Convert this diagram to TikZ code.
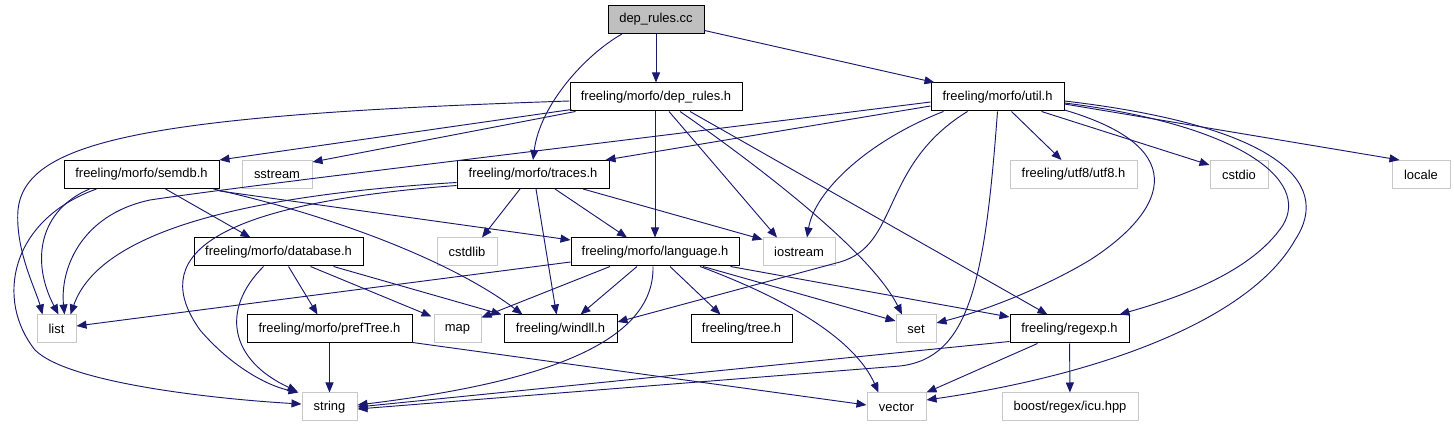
\documentclass[tikz,border=0pt]{standalone}
\usepackage{fontspec}
\setmainfont{Liberation Sans}
\usetikzlibrary{arrows.meta}
\definecolor{dxEdge}{HTML}{191970}
\definecolor{dxRoot}{HTML}{BFBFBF}
\definecolor{dxSys}{HTML}{C8C8C8}

\begin{document}
\begin{tikzpicture}[x=0.75pt, y=-0.75pt, font=\fontsize{9.7}{11}\selectfont,
  hdr/.style={draw=black, line width=0.75pt, fill=white, minimum height=21pt, inner sep=0pt},
  sys/.style={draw=dxSys, line width=0.75pt, fill=white, minimum height=21pt, inner sep=0pt},
  root/.style={hdr, fill=dxRoot},
  dep/.style={dxEdge, line width=0.7pt, -{Triangle[length=7.5pt, width=6pt]}}]
  \useasboundingbox[fill=white] (0,0) rectangle (1454,427);

  % rows of headers
  \node[root, minimum width=72pt] (cc) at (656,19.5) {dep\_rules.cc};
  \node[hdr, minimum width=129pt] (deprules) at (656,97) {freeling/morfo/dep\_rules.h};
  \node[hdr, minimum width=99.75pt] (util) at (997.5,97) {freeling/morfo/util.h};
  \node[hdr, minimum width=116.25pt] (semdb) at (141.5,174.5) {freeling/morfo/semdb.h};
  \node[sys, minimum width=52.5pt] (sstream) at (277,174.5) {sstream};
  \node[hdr, minimum width=114pt] (traces) at (533,174.5) {freeling/morfo/traces.h};
  \node[sys, minimum width=95.25pt] (utf8) at (1073.5,174.5) {freeling/utf8/utf8.h};
  \node[sys, minimum width=43.5pt] (cstdio) at (1239,174.5) {cstdio};
  \node[sys, minimum width=43.5pt] (locale) at (1421,174.5) {locale};
  \node[hdr, minimum width=126.75pt] (database) at (278.5,252) {freeling/morfo/database.h};
  \node[sys, minimum width=45pt] (cstdlib) at (467,252) {cstdlib};
  \node[hdr, minimum width=126pt] (language) at (655,252) {freeling/morfo/language.h};
  \node[sys, minimum width=54pt] (iostream) at (799,252) {iostream};
  \node[sys, minimum width=29.25pt] (list) at (56.5,329) {list};
  \node[hdr, minimum width=123.75pt] (preftree) at (329.5,329) {freeling/morfo/prefTree.h};
  \node[sys, minimum width=35.25pt] (map) at (457.5,329) {map};
  \node[hdr, minimum width=84.75pt] (windll) at (560.5,329) {freeling/windll.h};
  \node[hdr, minimum width=75.75pt] (tree) at (741.5,329) {freeling/tree.h};
  \node[sys, minimum width=30pt] (set) at (916,329) {set};
  \node[hdr, minimum width=89.25pt] (regexp) at (1069.5,329) {freeling/regexp.h};
  \node[sys, minimum width=41.25pt] (string) at (329.5,407) {string};
  \node[sys, minimum width=44.25pt] (vector) at (896.5,407) {vector};
  \node[sys, minimum width=102pt] (icu) at (1070,407) {boost/regex/icu.hpp};

  % dep_rules.cc
  \draw[dep] (cc) -- (deprules);
  \draw[dep] ([shift={(-34,0)}]cc.south) .. controls (585,55) and (540,105) .. (traces.north);
  \draw[dep] ([shift={(0,11)}]cc.east) -- ([shift={(4,0)}]util.north west);

  % dep_rules.h
  \draw[dep] ([shift={(2,-2)}]deprules.south west) -- (semdb.north east);
  \draw[dep] ([shift={(6,0)}]deprules.south west) -- ([shift={(0,2)}]sstream.north east);
  \draw[dep] ([shift={(0,4)}]deprules.west) .. controls (150,115) and (25,140) .. (18,210) .. controls (15,250) and (36,290) .. ([shift={(-14,0)}]list.north);
  \draw[dep] ([shift={(-1,0)}]deprules.south) -- (language.north);
  \draw[dep] ([shift={(13,0)}]deprules.south) -- ([shift={(-22,0)}]iostream.north);
  \draw[dep] ([shift={(24,0)}]deprules.south) .. controls (750,160) and (870,250) .. ([shift={(-14,0)}]set.north);
  \draw[dep] ([shift={(34,0)}]deprules.south) -- ([shift={(-22,0)}]regexp.north);

  % util.h
  \draw[dep] ([shift={(0,9)}]util.west) -- ([shift={(-4,0)}]traces.north east);
  \draw[dep] ([shift={(0,5)}]util.west) .. controls (550,150) and (250,185) .. (150,200) .. controls (80,215) and (60,270) .. ([shift={(8,0)}]list.north);
  \draw[dep] ([shift={(-54,0)}]util.south) .. controls (870,140) and (815,190) .. ([shift={(8,0)}]iostream.north);
  \draw[dep] ([shift={(-30,0)}]util.south) .. controls (880,165) and (900,245) .. (840,262) -- ([shift={(0,-7)}]windll.east);
  \draw[dep] (util.south) .. controls (985,280) and (970,358) .. (900,366) -- ([shift={(0,2)}]string.east);
  \draw[dep] ([shift={(14,0)}]util.south) -- ([shift={(-12,0)}]utf8.north);
  \draw[dep] ([shift={(44,0)}]util.south) -- ([shift={(0,5)}]cstdio.north west);
  \draw[dep] ([shift={(0,7)}]util.east) -- ([shift={(8,0)}]locale.north west);
  \draw[dep] ([shift={(0,13)}]util.east) .. controls (1200,150) and (1160,215) .. (1090,260) .. controls (1040,290) and (980,312) .. ([shift={(0,-6)}]set.east);
  \draw[dep] ([shift={(0,6)}]util.east) .. controls (1240,125) and (1310,180) .. (1283,225) .. controls (1250,275) and (1170,300) .. ([shift={(-10,0)}]regexp.north east);
  \draw[dep] ([shift={(0,4)}]util.east) .. controls (1270,125) and (1335,180) .. (1295,240) .. controls (1250,320) and (1100,375) .. ([shift={(0,-7)}]vector.east);

  % semdb.h
  \draw[dep] ([shift={(24,0)}]semdb.south) -- ([shift={(-28,0)}]database.north);
  \draw[dep] ([shift={(-6,0)}]semdb.south east) .. controls (330,215) and (450,260) .. ([shift={(19,0)}]windll.north west);
  \draw[dep] ([shift={(0,2)}]semdb.south east) -- ([shift={(0,-12)}]language.west);
  \draw[dep] ([shift={(-52,0)}]semdb.south) .. controls (40,210) and (30,260) .. ([shift={(2,0)}]list.north);
  \draw[dep] ([shift={(-45,0)}]semdb.south) .. controls (10,220) and (-5,300) .. (35,350) .. controls (70,385) and (230,400) .. ([shift={(0,-3)}]string.west);

  % traces.h
  \draw[dep] ([shift={(-13,0)}]traces.south) -- ([shift={(15,0)}]cstdlib.north);
  \draw[dep] ([shift={(3,0)}]traces.south) -- ([shift={(-4,0)}]windll.north);
  \draw[dep] ([shift={(22,0)}]traces.south) -- ([shift={(-28,0)}]language.north);
  \draw[dep] ([shift={(50,0)}]traces.south) -- ([shift={(0,2)}]iostream.north west);
  \draw[dep] ([shift={(0,8)}]traces.west) .. controls (250,195) and (100,230) .. ([shift={(14,0)}]list.north);
  \draw[dep] ([shift={(0,11)}]traces.west) .. controls (200,205) and (150,260) .. (200,330) .. controls (230,365) and (265,385) .. ([shift={(-3,0)}]string.north west);

  % database.h
  \draw[dep] ([shift={(-15,0)}]database.south) .. controls (220,310) and (230,360) .. ([shift={(-4,-1)}]string.north west);
  \draw[dep] ([shift={(10,0)}]database.south) -- ([shift={(-12,0)}]preftree.north);
  \draw[dep] ([shift={(32,0)}]database.south) -- ([shift={(-2,2)}]map.north west);
  \draw[dep] ([shift={(-30,0)}]database.south east) -- ([shift={(-2,0)}]windll.north west);

  % language.h
  \draw[dep] ([shift={(0,10)}]language.west) -- ([shift={(0,-3)}]list.east);
  \draw[dep] ([shift={(-45,0)}]language.south) -- ([shift={(0,3)}]map.north east);
  \draw[dep] ([shift={(-18,0)}]language.south) -- ([shift={(20,0)}]windll.north);
  \draw[dep] ([shift={(-2,0)}]language.south) .. controls (655,350) and (520,385) .. ([shift={(0,-2)}]string.east);
  \draw[dep] ([shift={(15,0)}]language.south) -- ([shift={(-21,0)}]tree.north);
  \draw[dep] ([shift={(45,0)}]language.south) .. controls (790,300) and (855,340) .. ([shift={(-18,0)}]vector.north);
  \draw[dep] ([shift={(48,0)}]language.south) -- ([shift={(0,-8)}]set.west);
  \draw[dep] ([shift={(-9,0)}]language.south east) -- ([shift={(0,-12)}]regexp.west);

  % regexp.h, prefTree.h
  \draw[dep] (regexp) -- (icu);
  \draw[dep] ([shift={(0,-2)}]regexp.south west) -- (string.east);
  \draw[dep] ([shift={(-32,0)}]regexp.south) -- (vector.north east);
  \draw[dep] (preftree) -- (string);
  \draw[dep] ([shift={(0,-1)}]preftree.south east) -- ([shift={(0,-2)}]vector.west);
\end{tikzpicture}
\end{document}
